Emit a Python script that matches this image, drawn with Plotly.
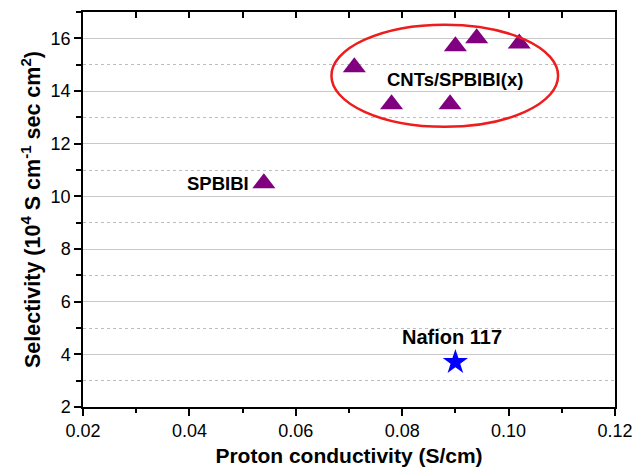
import plotly.graph_objects as go

# Proton conductivity (S/cm) and selectivity (10^4 S cm^-1 sec cm^2)
spbibi_x = [0.054]
spbibi_y = [10.5]

cnt_x = [0.071, 0.078, 0.089, 0.090, 0.094, 0.102]
cnt_y = [14.9, 13.5, 13.5, 15.7, 16.0, 15.8]

nafion_x = [0.090]
nafion_y = [3.7]

x_range = [0.02, 0.12]
y_range = [2, 17]
x_ticks = [0.02, 0.04, 0.06, 0.08, 0.10, 0.12]
x_ticklabels = ["0.02", "0.04", "0.06", "0.08", "0.10", "0.12"]
y_ticks = [2, 4, 6, 8, 10, 12, 14, 16]

# Region enclosing the composite membranes
group_box = dict(x0=0.0667, x1=0.1093, y0=12.64, y1=16.52)

FONT = "Liberation Sans, Arial, sans-serif"
PURPLE = "#800080"

fig = go.Figure()

fig.add_trace(go.Scatter(
    x=spbibi_x, y=spbibi_y, mode="markers", name="SPBIBI",
    marker=dict(symbol="triangle-up", size=20, color=PURPLE),
))
fig.add_trace(go.Scatter(
    x=cnt_x, y=cnt_y, mode="markers", name="CNTs/SPBIBI(x)",
    marker=dict(symbol="triangle-up", size=20, color=PURPLE),
))
fig.add_trace(go.Scatter(
    x=nafion_x, y=nafion_y, mode="markers", name="Nafion 117",
    marker=dict(symbol="star", size=19, color="#0000ff"),
))
# helper trace so the top axis (inward ticks) is rendered
fig.add_trace(go.Scatter(
    x=x_range, y=y_range, xaxis="x2", mode="markers",
    marker=dict(opacity=0), hoverinfo="skip", showlegend=False,
))

fig.add_shape(type="circle", xref="x", yref="y", **group_box,
              line=dict(color="#ee1c1c", width=2.5), layer="above")

label_font = dict(family=FONT, size=18.5, color="black", weight="bold")
fig.add_annotation(x=0.0899, y=14.45, text="CNTs/SPBIBI(x)", showarrow=False,
                   font=label_font, xanchor="center", yanchor="middle")
fig.add_annotation(x=0.0515, y=10.5, text="SPBIBI", showarrow=False,
                   font=label_font, xanchor="right", yanchor="middle")
fig.add_annotation(x=0.0893, y=4.65, text="Nafion 117", showarrow=False,
                   font=dict(family=FONT, size=20, color="black", weight="bold"),
                   xanchor="center", yanchor="middle")

fig.update_layout(
    width=635, height=470,
    margin=dict(l=83, r=20, t=12, b=63),
    paper_bgcolor="white", plot_bgcolor="white",
    showlegend=False,
    font=dict(family=FONT, size=18, color="black"),
    xaxis=dict(
        range=x_range, tickvals=x_ticks, ticktext=x_ticklabels,
        automargin=False,
        showgrid=False, zeroline=False,
        showline=True, linecolor="black", linewidth=1.5,
        ticks="outside", ticklen=7, tickwidth=1.5, tickcolor="black",
        minor=dict(tickvals=[0.03, 0.05, 0.07, 0.09, 0.11], ticks="outside",
                   ticklen=4, tickwidth=1.5, tickcolor="black", showgrid=False),
        tickfont=dict(family=FONT, size=18, color="black"),
        title=dict(text="Proton conductivity (S/cm)", standoff=8,
                   font=dict(family=FONT, size=21, color="black", weight="bold")),
    ),
    xaxis2=dict(
        range=x_range, overlaying="x", side="top", matches="x",
        automargin=False,
        showgrid=False, zeroline=False, showticklabels=False,
        showline=True, linecolor="black", linewidth=1.5,
        ticks="inside", ticklen=6, tickwidth=1.5, tickcolor="black",
        tick0=0.02, dtick=0.01,
    ),
    yaxis=dict(
        range=y_range, tickvals=y_ticks,
        automargin=False,
        showgrid=True, gridcolor="#c8c8c8", gridwidth=1, zeroline=False,
        showline=True, linecolor="black", linewidth=1.5, mirror=True,
        ticks="outside", ticklen=7, tickwidth=1.5, tickcolor="black",
        minor=dict(tick0=1, dtick=2, ticks="outside", ticklen=5, tickwidth=1.5,
                   tickcolor="black", showgrid=True, gridcolor="#bdbdbd",
                   griddash="dot", gridwidth=1),
        tickfont=dict(family=FONT, size=18, color="black"),
        title=dict(text="Selectivity (10<sup>4</sup> S cm<sup>-1</sup> sec cm<sup>2</sup>)",
                   standoff=4,
                   font=dict(family=FONT, size=21.5, color="black", weight="bold")),
    ),
)

fig.write_html("out.html")
